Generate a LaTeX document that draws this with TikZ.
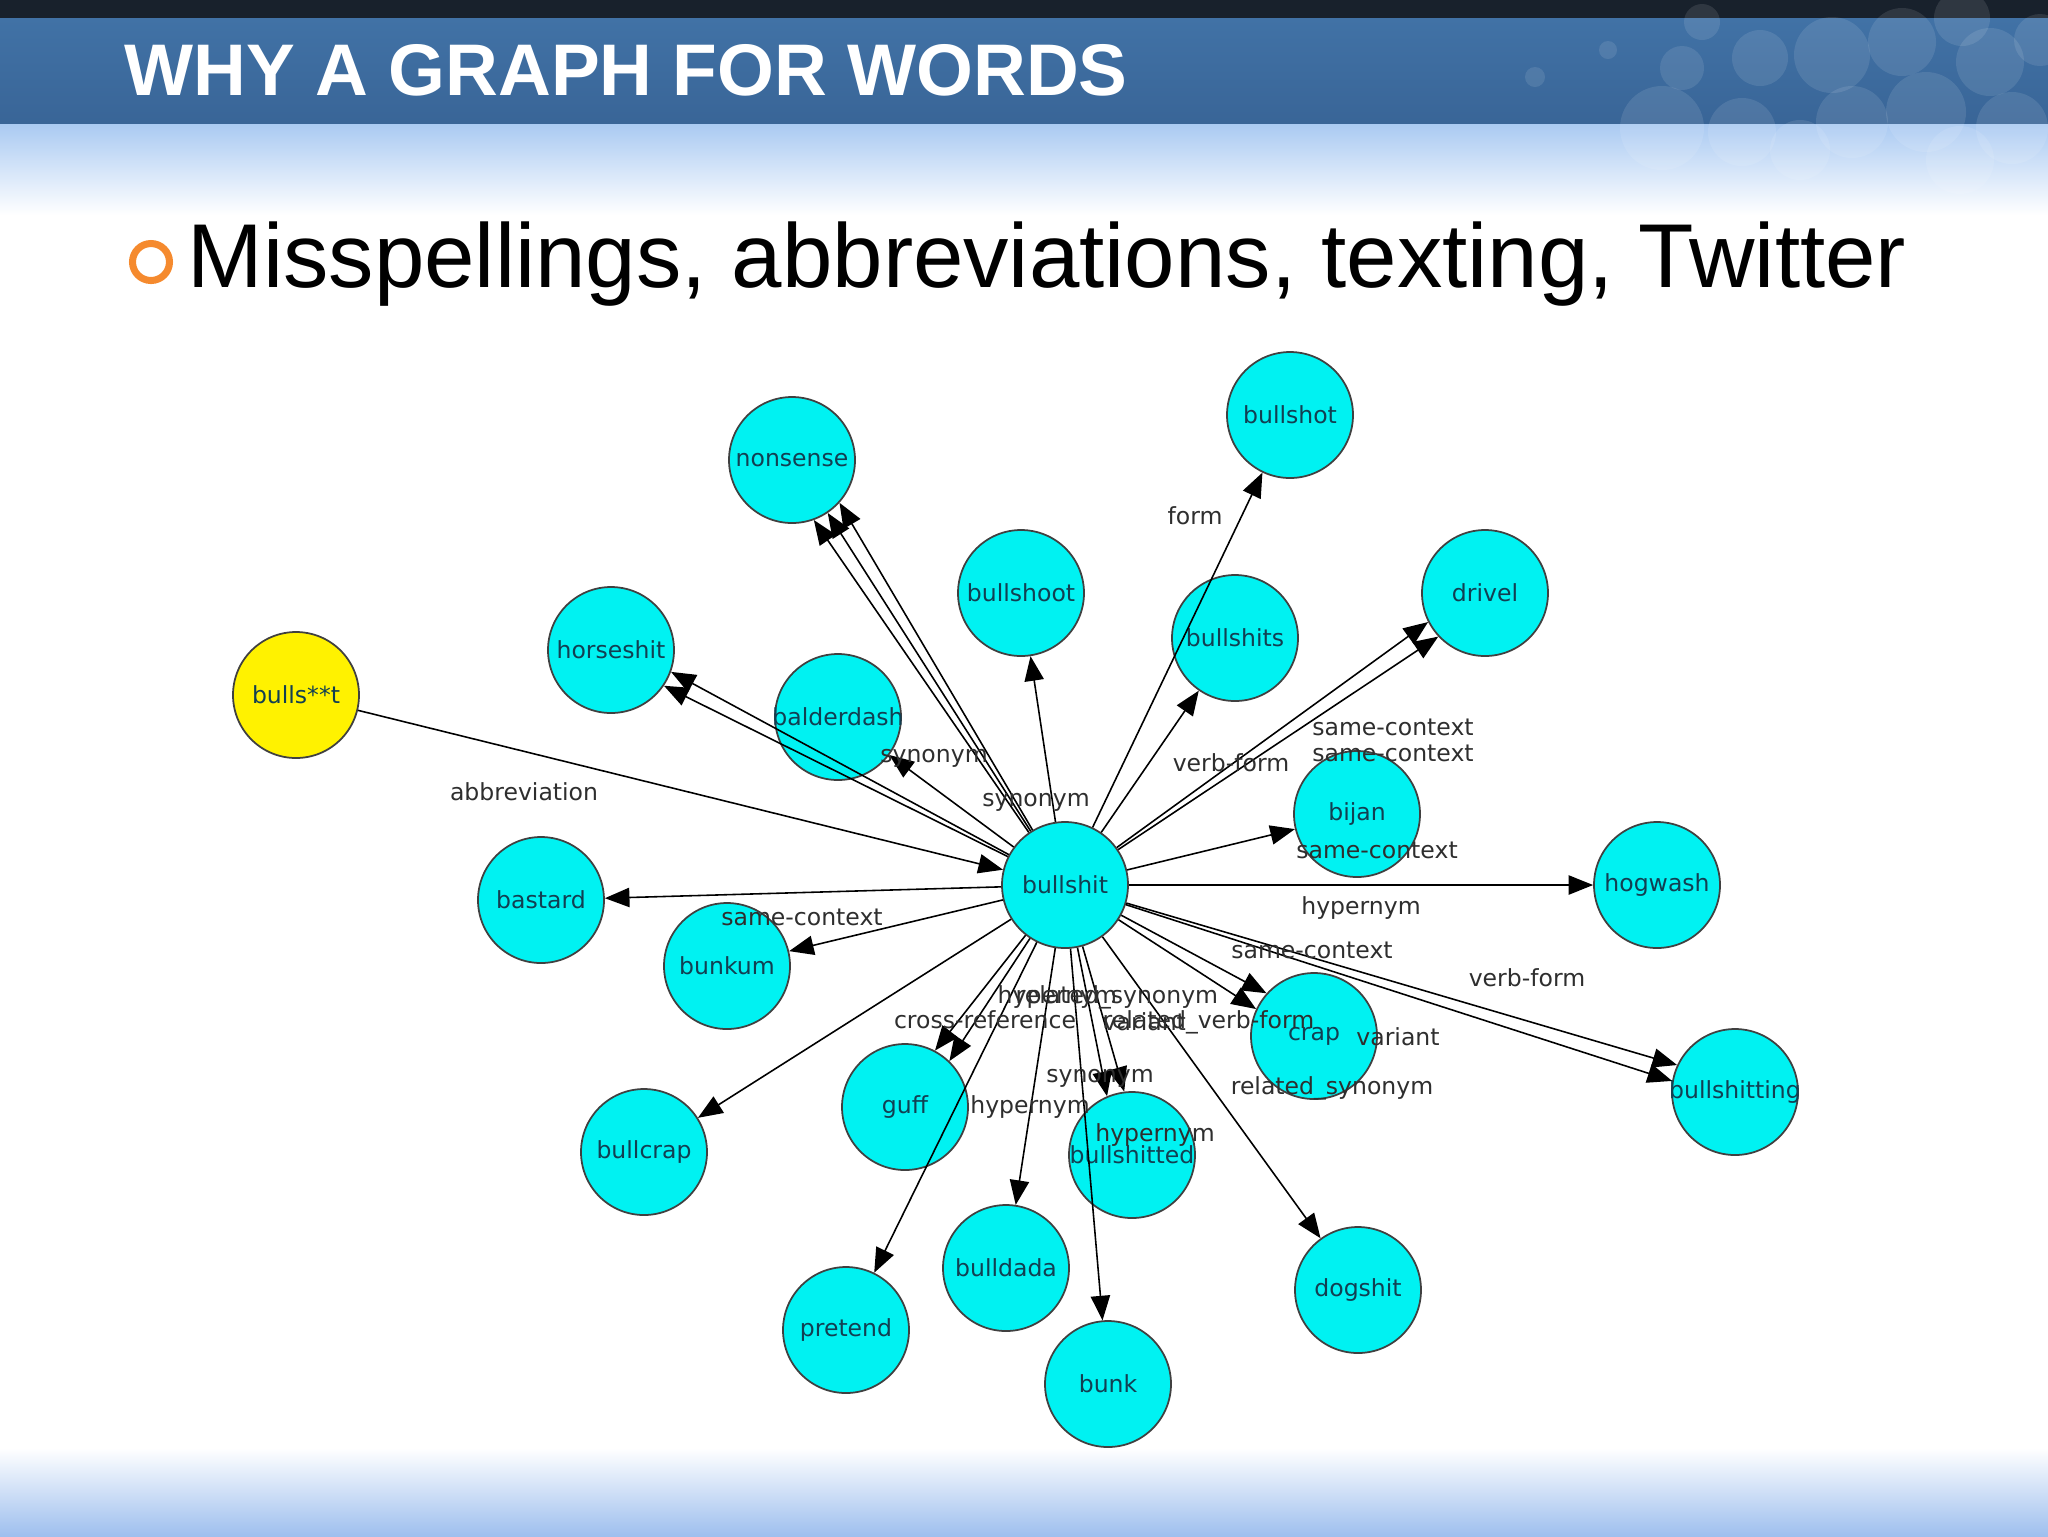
\documentclass[tikz,border=0pt]{standalone}
\usepackage{fontspec}
\setmainfont{Liberation Sans}
\newfontfamily\graphfont{DejaVu Sans}
\usetikzlibrary{arrows.meta}
\definecolor{hdrdark}{HTML}{18212C}
\definecolor{hdrtop}{HTML}{4172A6}
\definecolor{hdrbot}{HTML}{396597}
\definecolor{fadeblue}{HTML}{AACAF2}
\definecolor{botblue}{HTML}{9EBFEE}
\definecolor{ringorange}{HTML}{F58A2E}
\definecolor{wordcyan}{HTML}{00F2F2}
\definecolor{wordtext}{HTML}{123F52}
\definecolor{labgray}{HTML}{2E2E2E}
\begin{document}
\begin{tikzpicture}[x=.1mm,y=-.1mm,
		word/.style={circle,draw=black!75,line width=.5pt,fill=wordcyan,minimum size=12.6mm,inner sep=0pt,font=\graphfont\fontsize{6.7}{8}\selectfont,text=wordtext},
		rel/.style={inner sep=0pt,font=\graphfont\fontsize{6.7}{8}\selectfont,text=labgray},
		arr/.style={-{Triangle[length=7pt,width=5.5pt]},line width=.45pt}]
			\def\w#1{\makebox[0pt]{#1}}
			\useasboundingbox (0,0) rectangle (2048,1536);
			% slide background
			\fill[hdrdark] (0,0) rectangle (2048,18);
			\shade[top color=hdrtop,bottom color=hdrbot] (0,18) rectangle (2048,124);
			\shade[top color=fadeblue,bottom color=white] (0,124) rectangle (2048,215);
			\shade[top color=white,bottom color=botblue] (0,1448) rectangle (2048,1536);
			\foreach \bx/\by/\br in {1535/77/10,1608/50/9,1682/68/22,1662/128/42,1760/58/28,1742/132/34,1832/55/38,1852/122/36,1902/42/34,1926/112/40,1990/62/34,2012/128/36,1702/22/18,1962/18/28,2040/40/26,1800/150/30,1960/160/34}
				\fill[white,opacity=.1] (\bx,\by) circle[radius=\br*.1mm];
			\node[anchor=base west,inner sep=0pt,text=white,font=\bfseries\fontsize{20.8}{24}\selectfont] (title) at (124,95) {WHY A GRAPH FOR WORDS};
			\draw[ringorange,line width=2pt] (151,262) circle[radius=1.85mm];
			\node[anchor=base west,inner sep=0pt,font=\fontsize{25.8}{30}\selectfont] (sub) at (187,287) {Misspellings, abbreviations, texting, Twitter};
			% words
			\node[word] (bs) at (1065,885) {\w{bullshit}};
			\node[word,fill=yellow] (bst) at (296,695) {\w{bulls**t}};
			\node[word] (nons) at (792,460) {\w{nonsense}};
			\node[word] (bshot) at (1290,415) {\w{bullshot}};
			\node[word] (bshoot) at (1021,593) {\w{bullshoot}};
			\node[word] (bshits) at (1235,638) {\w{bullshits}};
			\node[word] (driv) at (1485,593) {\w{drivel}};
			\node[word] (hors) at (611,650) {\w{horseshit}};
			\node[word] (bald) at (838,717) {\w{balderdash}};
			\node[word] (bijan) at (1357,814) {\w{bijan}};
			\node[word] (hogw) at (1657,885) {\w{hogwash}};
			\node[word] (bast) at (541,900) {\w{bastard}};
			\node[word] (bunkum) at (727,966) {\w{bunkum}};
			\node[word] (bcrap) at (644,1152) {\w{bullcrap}};
			\node[word] (guff) at (905,1107) {\w{guff}};
			\node[word] (crap) at (1314,1036) {\w{crap}};
			\node[word] (bsting) at (1735,1092) {\w{bullshitting}};
			\node[word] (bsted) at (1132,1155) {\w{bullshitted}};
			\node[word] (bdada) at (1006,1268) {\w{bulldada}};
			\node[word] (pret) at (846,1330) {\w{pretend}};
			\node[word] (bunk) at (1108,1384) {\w{bunk}};
			\node[word] (dogs) at (1358,1290) {\w{dogshit}};
			% relations
			\draw[arr] (bst) -- (bs);
			\draw[arr] (bs) -- (nons.-70);
			\draw[arr] (bs) -- (nons.-56);
			\draw[arr] (bs) -- (nons.-42);
			\draw[arr] (bs) -- (hors.-20);
			\draw[arr] (bs) -- (hors.-34);
			\draw[arr] (bs) -- (bald);
			\draw[arr] (bs) -- (bshoot);
			\draw[arr] (bs) -- (bshot);
			\draw[arr] (bs) -- (bshits);
			\draw[arr] (bs) -- (driv.-153);
			\draw[arr] (bs) -- (driv.-137);
			\draw[arr] (bs) -- (bijan);
			\draw[arr] (bs) -- (hogw);
			\draw[arr] (bs) -- (bsting.155);
			\draw[arr] (bs) -- (bsting.170);
			\draw[arr] (bs) -- (crap.138);
			\draw[arr] (bs) -- (crap.155);
			\draw[arr] (bs) -- (dogs);
			\draw[arr] (bs) -- (bsted.113);
			\draw[arr] (bs) -- (bsted.97);
			\draw[arr] (bs) -- (bunk);
			\draw[arr] (bs) -- (bdada);
			\draw[arr] (bs) -- (pret);
			\draw[arr] (bs) -- (guff.62);
			\draw[arr] (bs) -- (guff.46);
			\draw[arr] (bs) -- (bcrap);
			\draw[arr] (bs) -- (bunkum);
			\draw[arr] (bs) -- (bast);
			% relation names
			\node[rel] (r1) at (1195,516) {form};
			\node[rel] (r2) at (524,792) {abbreviation};
			\node[rel] (r3) at (934,758) {synonym};
			\node[rel] (r4) at (1036,802) {synonym};
			\node[rel] (r5) at (1231,763) {verb-form};
			\node[rel] (r6) at (1393,727) {same-context};
			\node[rel] (r7) at (1393,753) {same-context};
			\node[rel] (r8) at (1377,850) {same-context};
			\node[rel] (r9) at (1361,908) {hypernym};
			\node[rel] (r10) at (1312,950) {same-context};
			\node[rel] (r11) at (1527,978) {verb-form};
			\node[rel] (r12) at (802,917) {same-context};
			\node[rel,anchor=west] (r13) at (997,997) {hypernym};
			\node[rel,anchor=west] (r14) at (1015,997) {related\_synonym};
			\node[rel] (r15) at (985,1020) {cross-reference};
			\node[rel,anchor=west] (r16) at (1102,1022) {variant};
			\node[rel,anchor=west] (r17) at (1102,1022) {related\_verb-form};
			\node[rel] (r18) at (1398,1037) {variant};
			\node[rel] (r19) at (1332,1088) {related\_synonym};
			\node[rel] (r20) at (1100,1078) {synonym};
			\node[rel] (r21) at (1030,1107) {hypernym};
			\node[rel] (r22) at (1155,1135) {hypernym};
		\end{tikzpicture}
\end{document}
